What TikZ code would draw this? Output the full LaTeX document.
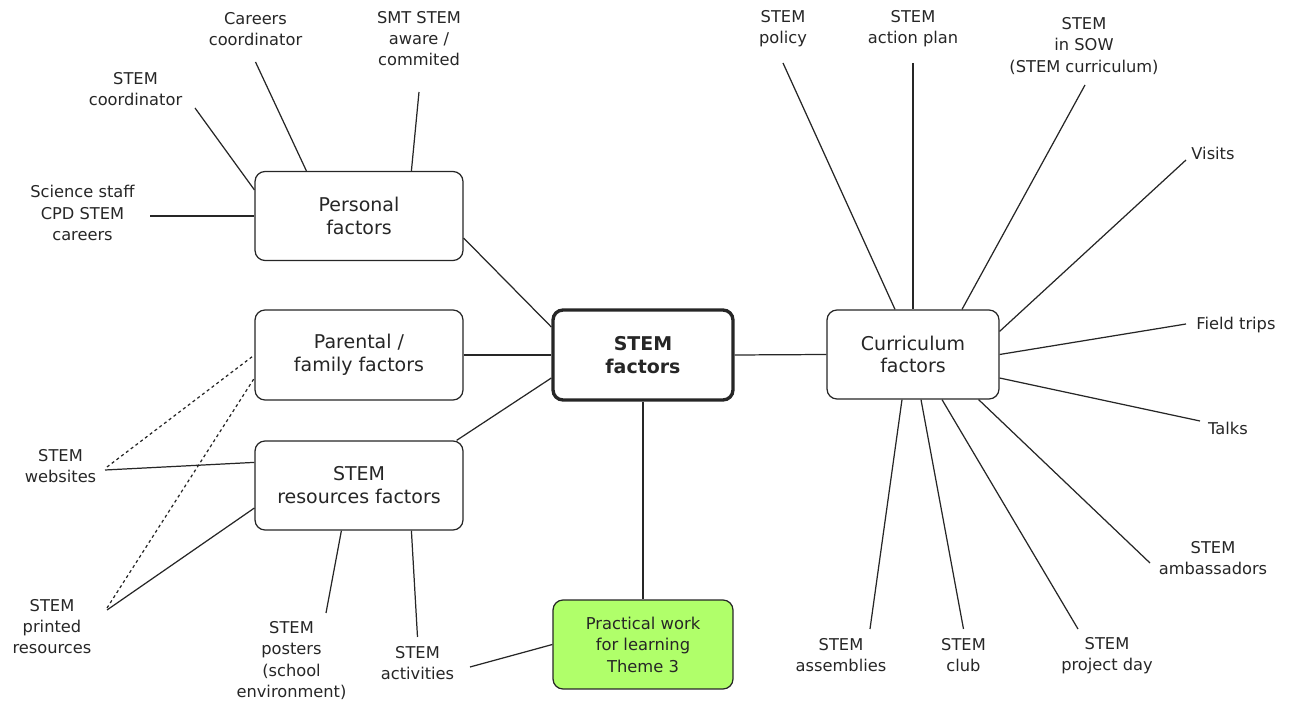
\documentclass[tikz,border=0pt]{standalone}
\usepackage{fontspec}
\setmainfont{DejaVu Sans}
\usetikzlibrary{calc}
\definecolor{practgreen}{RGB}{176,255,106}
\begin{document}
\begin{tikzpicture}[x=0.02cm,y=-0.02cm,line width=0.7pt,black!85,
  box/.style={draw,rounded corners=0.2cm,fill=white,align=center,font=\fontsize{10.8}{13}\selectfont,minimum width=4.16cm,minimum height=1.78cm,inner sep=0pt},
  hub/.style={box,line width=1.9pt,font=\bfseries\fontsize{10.8}{13}\selectfont,minimum width=3.6cm},
  lbl/.style={align=center,inner sep=0pt,font=\fontsize{9.25}{12}\selectfont},
  dash line/.style={dash pattern=on 1.7pt off 1.7pt}]
\useasboundingbox (0,0) rectangle (1303,702);
\node at (359,216) [box] (pers) {Personal\\factors};
\node at (359,355) [box,minimum height=1.8cm] (par) {Parental /\\family factors};
\node at (359,485.5) [box] (res) {STEM\\resources factors};
\node at (643,355) [hub,minimum height=1.8cm] (stem) {STEM\\factors};
\node at (913,354.5) [box,minimum width=3.44cm] (curr) {Curriculum\\factors};
\node at (643,644.5) [box,fill=practgreen,minimum width=3.6cm,font=\fontsize{9.3}{12.2}\selectfont] (prac) {Practical work\\for learning\\Theme 3};
\node at (255.5,29) [lbl] (cc) {Careers\\coordinator};
\node at (419,39) [lbl] (smt) {SMT STEM\\aware /\\commited};
\node at (135.5,89) [lbl] (scoord) {STEM\\coordinator};
\node at (82.5,213) [lbl] (sci) {Science staff\\CPD STEM\\careers};
\node at (60.5,466.5) [lbl] (web) {STEM\\websites};
\node at (52,627) [lbl] (print) {STEM\\printed\\resources};
\node at (291.5,660.5) [lbl] (post) {STEM\\posters\\(school\\environment)};
\node at (417.5,663) [lbl] (act) {STEM\\activities};
\node at (783,29) [lbl] (pol) {STEM\\policy};
\node at (913,29) [lbl] (plan) {STEM\\action plan};
\node at (1084,46) [lbl] (sow) {STEM\\in SOW\\(STEM curriculum)};
\node at (1213,153) [lbl] (vis) {Visits};
\node at (1236,325) [lbl] (trip) {Field trips};
\node at (1228,428) [lbl] (talk) {Talks};
\node at (1213,558.5) [lbl] (amb) {STEM\\ambassadors};
\node at (841,655.5) [lbl] (assem) {STEM\\assemblies};
\node at (963.5,655.5) [lbl] (club) {STEM\\club};
\node at (1107,655.5) [lbl] (proj) {STEM\\project day};
\draw ($(cc)+(0,33)$) -- ($(pers.north west)+(52,0)$);
\draw ($(smt)+(0,53)$) -- ($(pers.north west)+(157,0)$);
\draw ($(scoord)+(59.5,19)$) -- ($(pers.north west)+(0,19)$);
\draw ($(sci)+(67.5,3)$) -- (pers.west);
\draw ($(pers.east)+(0,22)$) -- ($(stem.west)+(0,-28)$);
\draw (par.east) -- (stem.west);
\draw ($(res.north east)+(-7,0)$) -- ($(stem.west)+(0,23)$);
\draw ($(web)+(44.5,3.5)$) -- ($(res.north west)+(0,22)$);
\draw[dash line] ($(web)+(46.5,0.5)$) -- (par.west);
\draw[dash line] ($(print)+(55,-19)$) -- ($(par.west)+(0,23)$);
\draw ($(print)+(55,-17)$) -- ($(res.west)+(0,22.5)$);
\draw ($(post)+(34.5,-47.5)$) -- ($(res.south west)+(87,0)$);
\draw ($(act)+(0,-26)$) -- ($(res.south west)+(157,0)$);
\draw ($(act)+(52.5,4)$) -- (prac.west);
\draw (stem.south) -- (prac.north);
\draw (stem.east) -- (curr.west);
\draw ($(pol)+(0,34)$) -- ($(curr.north)+(-18,0)$);
\draw ($(plan)+(0,34)$) -- (curr.north);
\draw ($(sow)+(1,39)$) -- ($(curr.north)+(49,0)$);
\draw ($(vis)+(-27,7)$) -- ($(curr.north east)+(0,22)$);
\draw ($(trip)+(-50,-1)$) -- (curr.east);
\draw ($(talk)+(-28,-7)$) -- ($(curr.east)+(0,23.5)$);
\draw ($(amb)+(-63,4.5)$) -- ($(curr.south east)+(-21,0)$);
\draw ($(proj)+(-29,-26.5)$) -- ($(curr.south)+(29,0)$);
\draw ($(club)+(0,-26.5)$) -- ($(curr.south)+(8,0)$);
\draw ($(assem)+(29,-26.5)$) -- ($(curr.south)+(-11,0)$);
\end{tikzpicture}
\end{document}
